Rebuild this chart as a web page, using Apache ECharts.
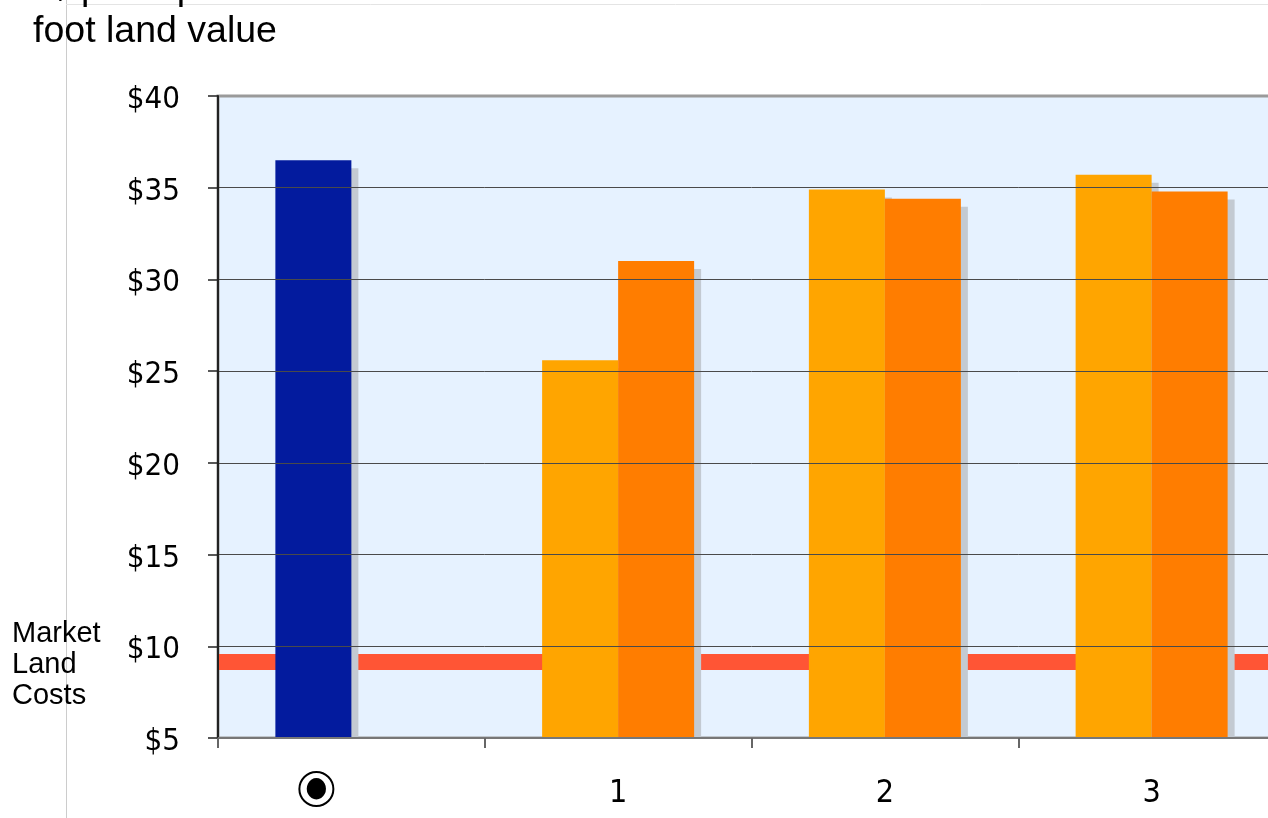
<!DOCTYPE html>
<html>
<head>
<meta charset="utf-8">
<script src="https://cdn.jsdelivr.net/npm/echarts@6/dist/echarts.min.js"></script>
<style>
  html, body { margin: 0; padding: 0; background: #ffffff; overflow: hidden; }
  #chart { width: 1285px; height: 818px; }
</style>
</head>
<body>
<div id="chart"></div>
<script>
// Land value per square foot, by scenario
const categories = ['current', '1', '2', '3'];
const currentValue = [36.5, '-', '-', '-'];
const optionA = ['-', 25.6, 34.9, 35.7];
const optionB = ['-', 31.0, 34.4, 34.8];
const marketLandCost = 9.15;
const yTicks = { min: 5, max: 40, step: 5 };

const NUM_FONT = "'DejaVu Sans Condensed', 'DejaVu Sans', sans-serif";
const TEXT_FONT = "'Liberation Sans', Arial, sans-serif";
const barShadow = {
  shadowColor: '#c3cad2',
  shadowBlur: 0,
  shadowOffsetX: 7,
  shadowOffsetY: 8
};

const chart = echarts.init(document.getElementById('chart'), null, { renderer: 'canvas' });

chart.setOption({
  animation: false,
  backgroundColor: '#ffffff',
  title: {
    text: '$ per square\nfoot land value',
    left: 150,
    top: -38,
    textAlign: 'center',
    textStyle: {
      fontFamily: TEXT_FONT,
      fontWeight: 'normal',
      fontSize: 37.5,
      lineHeight: 43,
      color: '#000000'
    }
  },
  graphic: [
    { type: 'line', z: -1, shape: { x1: 66.5, y1: 0, x2: 66.5, y2: 818 }, style: { stroke: '#cccccc', lineWidth: 1 } },
    { type: 'line', z: -1, shape: { x1: 66, y1: 4.5, x2: 1285, y2: 4.5 }, style: { stroke: '#e4e4e4', lineWidth: 1 } },
    // keeps the bar shadows inside the plot frame
    { type: 'rect', z: 3, shape: { x: 208, y: 739, width: 1080, height: 12 }, style: { fill: '#ffffff' } }
  ],
  grid: {
    left: 218,
    top: 96,
    right: 0,
    bottom: 80,
    show: true,
    backgroundColor: '#e6f2ff',
    borderColor: '#9a9a9a',
    borderWidth: 3
  },
  xAxis: {
    type: 'category',
    data: categories,
    z: 4,
    axisLine: { lineStyle: { color: '#777777', width: 2 } },
    axisTick: { show: true, length: 10, lineStyle: { color: '#666666', width: 2 } },
    axisLabel: {
      interval: 0,
      margin: 34,
      color: '#000000',
      formatter: (v, i) => i === 0 ? '{ring|●}{gap|}' : '{n|' + v + '}',
      rich: {
        n: { fontFamily: NUM_FONT, fontSize: 32, padding: [6, 0, 0, 0], color: '#000000' },
        ring: {
          width: 34, height: 34, lineHeight: 34,
          borderRadius: 19, borderColor: '#000000', borderWidth: 2,
          align: 'center', verticalAlign: 'middle',
          fontFamily: NUM_FONT, fontSize: 28, color: '#000000'
        },
        gap: { width: 70, height: 34 }
      }
    },
    splitLine: { show: false }
  },
  yAxis: {
    type: 'value',
    min: yTicks.min,
    max: yTicks.max,
    interval: yTicks.step,
    z: 4,
    axisLine: { show: true, lineStyle: { color: '#222222', width: 2 } },
    axisTick: { show: true, length: 10, lineStyle: { color: '#222222', width: 1.5 } },
    axisLabel: {
      margin: 38,
      color: '#000000',
      formatter: v => '{v|$' + v + '}',
      rich: {
        v: { fontFamily: NUM_FONT, fontSize: 31, padding: [8, 0, 0, 0], color: '#000000' }
      }
    },
    splitLine: { show: true, showMaxLine: false, showMinLine: false, lineStyle: { color: '#4a4a4a', width: 1 } }
  },
  series: [
    {
      type: 'line',
      data: [],
      z: 1,
      silent: true,
      markLine: {
        z: 1,
        symbol: 'none',
        silent: true,
        data: [{ yAxis: marketLandCost }],
        lineStyle: { color: '#ff5535', width: 16, type: 'solid', opacity: 1 },
        label: {
          show: true,
          position: 'start',
          distance: 106,
          formatter: '{t|Market}\n{t|Land}\n{t|Costs}',
          padding: [6, 0, 0, 0],
          rich: {
            t: { width: 100, align: 'left', fontFamily: TEXT_FONT, fontSize: 29, lineHeight: 31, color: '#000000' }
          }
        }
      }
    },
    {
      name: 'current',
      type: 'bar',
      stack: 'first',
      z: 2,
      barWidth: 76,
      barGap: '0%',
      data: currentValue,
      itemStyle: Object.assign({ color: '#031b9e' }, barShadow)
    },
    {
      name: 'A',
      type: 'bar',
      stack: 'first',
      z: 2,
      barWidth: 76,
      barGap: '0%',
      data: optionA,
      itemStyle: Object.assign({ color: '#ffa500' }, barShadow)
    },
    {
      name: 'B',
      type: 'bar',
      z: 2,
      barWidth: 76,
      barGap: '0%',
      data: optionB,
      itemStyle: Object.assign({ color: '#ff7d00' }, barShadow)
    }
  ]
});
</script>
</body>
</html>
